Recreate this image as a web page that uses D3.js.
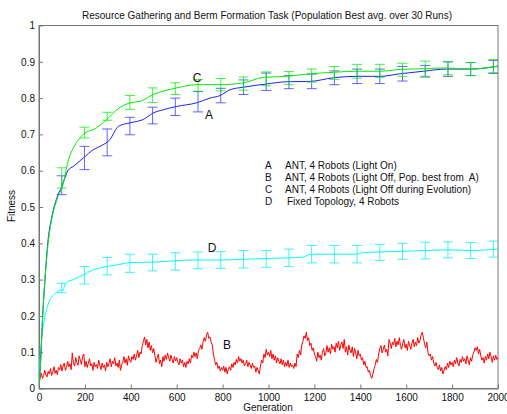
<!DOCTYPE html>
<html>
<head>
<meta charset="utf-8">
<script src="https://cdn.jsdelivr.net/npm/d3@7"></script>
<style>
  body { margin: 0; background: #fff; }
  svg { display: block; font-family: "Liberation Sans", Arial, sans-serif; }
</style>
</head>
<body>
<div id="chart"></div>
<script>
// Datos
const xTicks = [0, 200, 400, 600, 800, 1000, 1200, 1400, 1600, 1800, 2000];
const yTicks = [0, 0.1, 0.2, 0.3, 0.4, 0.5, 0.6, 0.7, 0.8, 0.9, 1];

// Curva A (azul)
const genA = [0, 5, 9, 16, 26, 38, 55, 75, 99, 126, 150, 193, 237, 266, 309, 346, 397, 454, 498, 542, 600, 687, 745, 789, 832, 890, 992, 1079, 1181, 1282, 1384, 1486, 1573, 1675, 1776, 1878, 2000];
const valA = [0.01, 0.05, 0.1, 0.2, 0.3, 0.4, 0.47, 0.52, 0.556, 0.6, 0.612, 0.635, 0.658, 0.667, 0.686, 0.722, 0.732, 0.741, 0.759, 0.768, 0.777, 0.787, 0.8, 0.807, 0.823, 0.83, 0.839, 0.845, 0.846, 0.856, 0.86, 0.86, 0.867, 0.874, 0.88, 0.88, 0.888];

// Curva C (verde)
const genC = [0, 5, 9, 16, 26, 40, 60, 78, 106, 128, 150, 193, 251, 295, 339, 397, 440, 498, 600, 687, 789, 890, 977, 1079, 1181, 1282, 1384, 1486, 1573, 1675, 1776, 1878, 2000];
const valC = [0.01, 0.05, 0.1, 0.2, 0.3, 0.4, 0.48, 0.52, 0.565, 0.63, 0.663, 0.7, 0.718, 0.741, 0.768, 0.787, 0.791, 0.81, 0.828, 0.837, 0.837, 0.842, 0.857, 0.86, 0.867, 0.871, 0.874, 0.874, 0.879, 0.881, 0.883, 0.88, 0.888];

// Curva D (cian)
const genD = [0, 5, 10, 20, 30, 48, 70, 99, 105, 112, 120, 150, 198, 250, 297, 350, 396, 495, 594, 693, 792, 891, 990, 1088, 1150, 1186, 1286, 1383, 1420, 1482, 1582, 1681, 1780, 1880, 2000];
const valD = [0.01, 0.08, 0.13, 0.18, 0.21, 0.244, 0.262, 0.272, 0.27, 0.285, 0.292, 0.3, 0.315, 0.33, 0.336, 0.342, 0.347, 0.348, 0.352, 0.354, 0.354, 0.356, 0.358, 0.36, 0.362, 0.37, 0.37, 0.37, 0.375, 0.376, 0.378, 0.38, 0.382, 0.38, 0.384];

// Curva B (roja), un valor cada 5 generaciones
const stepB = 5;
const valB = [
  0.01, 0.03, 0.042, 0.028, 0.035, 0.05, 0.038, 0.032, 0.047, 0.04, 0.055, 0.036, 0.045, 0.06, 0.042, 0.05, 0.038, 0.058, 0.052, 0.066, 0.048,
  0.062, 0.07, 0.05, 0.058, 0.075, 0.06, 0.068, 0.052, 0.098, 0.07, 0.062, 0.085, 0.072, 0.064, 0.09, 0.078, 0.066, 0.088, 0.095, 0.06,
  0.075, 0.058, 0.07, 0.082, 0.062, 0.068, 0.05, 0.072, 0.06, 0.066, 0.055, 0.078, 0.064, 0.052, 0.07, 0.058, 0.065, 0.048, 0.072, 0.06,
  0.07, 0.082, 0.06, 0.075, 0.068, 0.085, 0.062, 0.07, 0.058, 0.078, 0.05, 0.065, 0.072, 0.088, 0.07, 0.082, 0.064, 0.09, 0.078, 0.072,
  0.088, 0.08, 0.095, 0.078, 0.09, 0.105, 0.085, 0.1, 0.095, 0.118, 0.13, 0.142, 0.12, 0.135, 0.112, 0.128, 0.105, 0.118, 0.098, 0.11,
  0.09, 0.072, 0.085, 0.095, 0.068, 0.078, 0.06, 0.088, 0.075, 0.092, 0.08, 0.098, 0.085, 0.075, 0.092, 0.08, 0.07, 0.088, 0.076, 0.085,
  0.072, 0.065, 0.082, 0.07, 0.078, 0.06, 0.072, 0.058, 0.075, 0.068, 0.082, 0.07, 0.092, 0.085, 0.1, 0.088, 0.098, 0.082, 0.105, 0.11,
  0.12, 0.108, 0.128, 0.14, 0.13, 0.148, 0.155, 0.138, 0.142, 0.128, 0.12, 0.095, 0.078, 0.065, 0.072, 0.055, 0.062, 0.048, 0.058, 0.05,
  0.062, 0.045, 0.058, 0.04, 0.052, 0.06, 0.05, 0.068, 0.058, 0.072, 0.065, 0.08, 0.07, 0.088, 0.075, 0.082, 0.07, 0.078, 0.062, 0.068,
  0.078, 0.06, 0.072, 0.065, 0.055, 0.07, 0.058, 0.062, 0.045, 0.058, 0.05, 0.04, 0.062, 0.078, 0.07, 0.095, 0.085, 0.108, 0.092, 0.1,
  0.088, 0.105, 0.082, 0.095, 0.078, 0.09, 0.07, 0.085, 0.075, 0.068, 0.082, 0.065, 0.078, 0.06, 0.072, 0.062, 0.078, 0.058, 0.07, 0.06,
  0.065, 0.055, 0.07, 0.06, 0.095, 0.085, 0.105, 0.092, 0.12, 0.13, 0.145, 0.138, 0.155, 0.132, 0.14, 0.118, 0.125, 0.105, 0.112, 0.095,
  0.088, 0.075, 0.1, 0.085, 0.092, 0.078, 0.1, 0.11, 0.09, 0.098, 0.118, 0.1, 0.112, 0.095, 0.122, 0.108, 0.115, 0.1, 0.125, 0.112,
  0.13, 0.105, 0.12, 0.128, 0.11, 0.135, 0.1, 0.115, 0.092, 0.12, 0.105, 0.098, 0.115, 0.088, 0.11, 0.098, 0.082, 0.105, 0.09, 0.095,
  0.078, 0.085, 0.065, 0.075, 0.058, 0.06, 0.045, 0.05, 0.035, 0.028, 0.04, 0.055, 0.065, 0.08, 0.072, 0.095, 0.11, 0.118, 0.098, 0.108,
  0.12, 0.1, 0.108, 0.09, 0.135, 0.125, 0.11, 0.128, 0.12, 0.138, 0.115, 0.13, 0.12, 0.14, 0.118, 0.108, 0.125, 0.135, 0.112, 0.122,
  0.105, 0.13, 0.118, 0.108, 0.125, 0.135, 0.115, 0.128, 0.118, 0.14, 0.125, 0.132, 0.148, 0.155, 0.14, 0.122, 0.112, 0.128, 0.098, 0.09,
  0.095, 0.078, 0.088, 0.07, 0.062, 0.072, 0.058, 0.052, 0.065, 0.048, 0.058, 0.04, 0.05, 0.06, 0.052, 0.07, 0.058, 0.075, 0.065, 0.072,
  0.06, 0.078, 0.068, 0.085, 0.07, 0.062, 0.08, 0.072, 0.088, 0.075, 0.082, 0.068, 0.09, 0.078, 0.065, 0.085, 0.075, 0.092, 0.1, 0.112,
  0.105, 0.115, 0.095, 0.108, 0.09, 0.078, 0.085, 0.07, 0.088, 0.078, 0.095, 0.082, 0.1, 0.088, 0.072, 0.09, 0.078, 0.092, 0.08, 0.085
];

// Barras de error (cada 99 generaciones)
const errGen = [99, 198, 297, 396, 495, 594, 693, 792, 891, 990, 1089, 1188, 1287, 1386, 1485, 1584, 1683, 1782, 1881, 1980];
const errMeanA = [0.56, 0.635, 0.678, 0.723, 0.752, 0.776, 0.79, 0.807, 0.83, 0.845, 0.844, 0.846, 0.856, 0.86, 0.86, 0.867, 0.874, 0.88, 0.88, 0.886];
const errSdA = [0.026, 0.032, 0.037, 0.024, 0.023, 0.024, 0.028, 0.02, 0.02, 0.024, 0.018, 0.02, 0.019, 0.02, 0.02, 0.02, 0.016, 0.02, 0.018, 0.018];
const errMeanC = [0.58, 0.705, 0.75, 0.788, 0.808, 0.826, 0.835, 0.837, 0.84, 0.853, 0.855, 0.862, 0.869, 0.874, 0.875, 0.878, 0.881, 0.882, 0.88, 0.888];
const errSdC = [0.028, 0.015, 0.011, 0.019, 0.02, 0.016, 0.016, 0.017, 0.018, 0.019, 0.018, 0.018, 0.018, 0.019, 0.018, 0.018, 0.021, 0.018, 0.018, 0.018];
const errMeanD = [0.277, 0.312, 0.337, 0.345, 0.347, 0.35, 0.353, 0.354, 0.356, 0.357, 0.36, 0.37, 0.37, 0.37, 0.375, 0.378, 0.38, 0.382, 0.38, 0.384];
const errSdD = [0.013, 0.024, 0.024, 0.025, 0.023, 0.024, 0.023, 0.023, 0.024, 0.023, 0.024, 0.024, 0.024, 0.024, 0.022, 0.022, 0.023, 0.022, 0.022, 0.022];

// Leyenda
const legendKeys = ["A", "B", "C", "D"];
const legendText = [
  "ANT, 4 Robots (Light On)",
  "ANT, 4 Robots (Light Off, Pop. best from  A)",
  "ANT, 4 Robots (Light Off during Evolution)",
  "Fixed Topology, 4 Robots"
];

// Dimensiones
const W = 507, H = 414;
const margin = { top: 25.5, right: 9, bottom: 25.5, left: 39 };
const width = W - margin.left - margin.right;
const height = H - margin.top - margin.bottom;

const svg = d3.select("#chart").append("svg")
    .attr("width", W)
    .attr("height", H);

const g = svg.append("g")
    .attr("transform", `translate(${margin.left},${margin.top})`);

// Escalas
const x = d3.scaleLinear().domain([0, 2000]).range([0, width]);
const y = d3.scaleLinear().domain([0, 1]).range([height, 0]);

// Marco de los ejes
g.append("rect")
    .attr("width", width)
    .attr("height", height)
    .attr("fill", "none")
    .attr("stroke", "#777");

// Ejes
const xAxis = g.append("g")
    .attr("transform", `translate(0,${height})`)
    .call(d3.axisBottom(x).tickValues(xTicks).tickFormat(d => String(d)).tickSize(-4).tickSizeOuter(0).tickPadding(5));
const yAxis = g.append("g")
    .call(d3.axisLeft(y).tickValues(yTicks).tickFormat(d => String(d)).tickSize(-4).tickSizeOuter(0).tickPadding(4));

[xAxis, yAxis].forEach(ax => {
    ax.select(".domain").attr("stroke", "#777");
    ax.selectAll(".tick line").attr("stroke", "#777");
    ax.selectAll(".tick text")
        .attr("fill", "#111")
        .style("font-size", "10px")
        .style("font-family", "'Liberation Sans', Arial, sans-serif");
});

// Líneas
const line = d3.line()
    .x(d => x(d[0]))
    .y(d => y(d[1]))
    .curve(d3.curveMonotoneX);

const zip = (a, b) => a.map((v, i) => [v, b[i]]);
const dataB = valB.map((v, i) => [i * stepB, v]);

svg.append("clipPath").attr("id", "clip")
    .append("rect").attr("width", width).attr("height", height);
const plot = g.append("g").attr("clip-path", "url(#clip)");

// Barras de error
function errorBars(means, sds, color) {
    const grp = plot.append("g").attr("stroke", color).attr("stroke-opacity", 0.75);
    errGen.forEach((gen, i) => {
        const cx = x(gen), y0 = y(means[i] - sds[i]), y1 = y(means[i] + sds[i]);
        grp.append("line").attr("x1", cx).attr("x2", cx).attr("y1", y0).attr("y2", y1);
        grp.append("line").attr("x1", cx - 5).attr("x2", cx + 5).attr("y1", y0).attr("y2", y0);
        grp.append("line").attr("x1", cx - 5).attr("x2", cx + 5).attr("y1", y1).attr("y2", y1);
    });
}

plot.append("path").datum(dataB)
    .attr("fill", "none").attr("stroke", "#ff0000").attr("stroke-width", 1)
    .attr("d", d3.line().x(d => x(d[0])).y(d => y(d[1])));

plot.append("path").datum(zip(genD, valD))
    .attr("fill", "none").attr("stroke", "#00ffff").attr("stroke-width", 1)
    .attr("d", line);
errorBars(errMeanD, errSdD, "#00f0f0");

plot.append("path").datum(zip(genA, valA))
    .attr("fill", "none").attr("stroke", "#2020ff").attr("stroke-width", 1)
    .attr("d", line);
errorBars(errMeanA, errSdA, "#3030ff");

plot.append("path").datum(zip(genC, valC))
    .attr("fill", "none").attr("stroke", "#00ee00").attr("stroke-width", 1)
    .attr("d", line);
errorBars(errMeanC, errSdC, "#00ee00");

// Etiquetas de curvas
const curveLabels = [["C", 197, 77], ["A", 209, 114], ["D", 212, 247], ["B", 227, 344]];
svg.selectAll(".clabel").data(curveLabels).enter().append("text")
    .attr("class", "clabel")
    .attr("x", d => d[1])
    .attr("y", d => d[2] + 4.5)
    .attr("text-anchor", "middle")
    .style("font-size", "12px")
    .attr("fill", "#111")
    .text(d => d[0]);

// Leyenda
legendKeys.forEach((k, i) => {
    svg.append("text").attr("x", 265).attr("y", 168.5 + i * 12)
        .style("font-size", "10px").attr("fill", "#111").text(k);
    svg.append("text").attr("x", i === 3 ? 287 : 285).attr("y", 168.5 + i * 12)
        .style("font-size", "10px").style("white-space", "pre")
        .attr("fill", "#111").text(legendText[i]);
});

// Título y etiquetas de ejes
svg.append("text")
    .attr("x", 267).attr("y", 18.5)
    .attr("text-anchor", "middle")
    .style("font-size", "10px").attr("fill", "#111")
    .text("Resource Gathering and Berm Formation Task (Population Best avg. over 30 Runs)");

svg.append("text")
    .attr("x", 268).attr("y", 411)
    .attr("text-anchor", "middle")
    .style("font-size", "10px").attr("fill", "#111")
    .text("Generation");

svg.append("text")
    .attr("transform", "translate(15,206) rotate(-90)")
    .attr("text-anchor", "middle")
    .style("font-size", "10px").attr("fill", "#111")
    .text("Fitness");
</script>
</body>
</html>
